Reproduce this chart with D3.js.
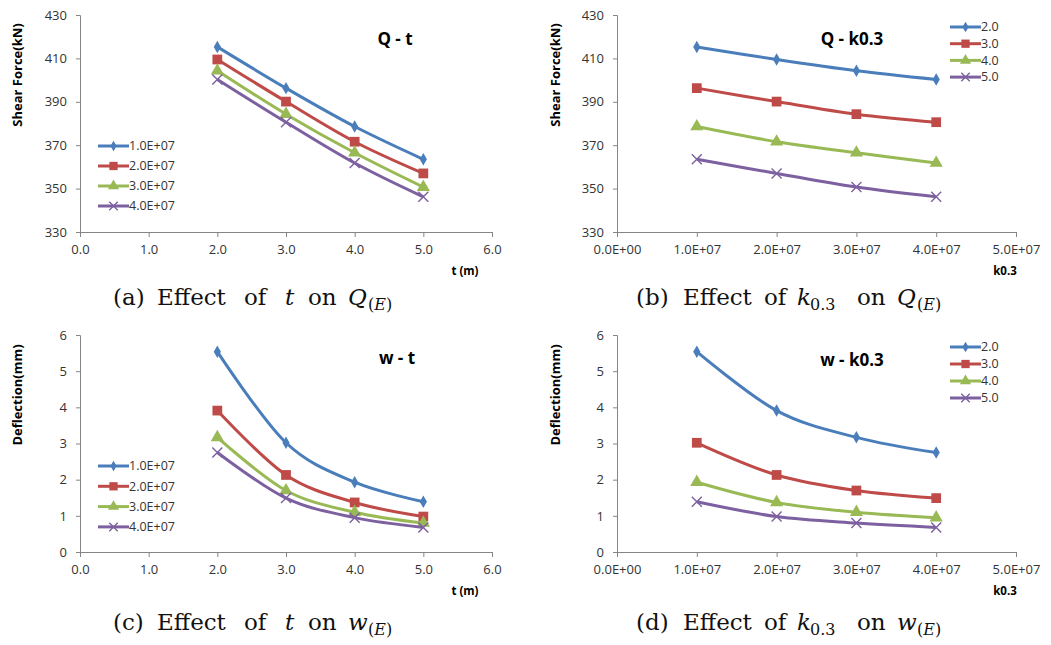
<!DOCTYPE html>
<html>
<head>
<meta charset="utf-8">
<script src="https://cdn.jsdelivr.net/npm/d3@7"></script>
<style>
  body { margin: 0; background: #fff; }
  svg text { font-family: "Open Sans", "Liberation Sans", sans-serif; }
  .tick text { fill: #333; }
  .cap { font-family: "DejaVu Serif", "Liberation Serif", serif !important; fill: #111; }
</style>
</head>
<body>
<svg id="chart" width="1051" height="645"></svg>
<script>
// --- data ---
const tValues = [2, 3, 4, 5];                 // t (m)
const kValues = [1e7, 2e7, 3e7, 4e7];         // k0.3
const kNames = ["1.0E+07", "2.0E+07", "3.0E+07", "4.0E+07"];
const tNames = ["2.0", "3.0", "4.0", "5.0"];

// shear force Q, rows = t, cols = k
const shearByT = [
    [415.3, 409.5, 404.3, 400.3],
    [396.3, 390.1, 384.3, 380.6],
    [378.6, 371.6, 366.5, 361.8],
    [363.5, 357.0, 350.7, 346.2],
];
// deflection w, rows = t, cols = k
const deflByT = [
    [5.54, 3.91, 3.17, 2.75],
    [3.02, 2.13, 1.70, 1.49],
    [1.93, 1.37, 1.10, 0.95],
    [1.39, 0.98, 0.80, 0.68],
];

const tTicks = [0, 1, 2, 3, 4, 5, 6];
const kTicks = [0, 1e7, 2e7, 3e7, 4e7, 5e7];
const kTickLabels = ["0.0E+00", "1.0E+07", "2.0E+07", "3.0E+07", "4.0E+07", "5.0E+07"];
const shearTicks = [330, 350, 370, 390, 410, 430];
const deflTicks = [0, 1, 2, 3, 4, 5, 6];

const colors = ["#4a7ebb", "#be4b48", "#98b954", "#7d60a0"];
const markers = ["diamond", "square", "triangle", "x"];

const svg = d3.select("#chart");
svg.append("rect").attr("width", 1051).attr("height", 645).attr("fill", "#fff");

const transpose = (m) => m[0].map((_, j) => m.map((r) => r[j]));
const oneDec = d3.format(".1f");

// caption word layouts (offset from caption start)
const capT = (lab, q) => [
    { s: lab, dx: 0 }, { s: "Effect", dx: 44 }, { s: "of", dx: 131 },
    { s: "t", dx: 172, it: true }, { s: "on", dx: 195 },
    { s: q, dx: 235, it: true }, { s: "(", dx: 255, sub: true }, { s: "E", it: true, sub: true, cont: true }, { s: ")", sub: true, cont: true },
];
const capK = (lab, q) => [
    { s: lab, dx: 0 }, { s: "Effect", dx: 47 }, { s: "of", dx: 128 },
    { s: "k", dx: 161, it: true }, { s: "0.3", dx: 174, sub: true }, { s: "on", dx: 221 },
    { s: q, dx: 261, it: true }, { s: "(", dx: 281, sub: true }, { s: "E", it: true, sub: true, cont: true }, { s: ")", sub: true, cont: true },
];

const panels = [
    {
        left: 80, right: 492, top: 15, bottom: 232,
        xs: tValues, xDomain: [0, 6], xTicks: tTicks, xFmt: (d) => oneDec(d),
        yDomain: [330, 430], yTicks: shearTicks,
        series: transpose(shearByT), names: kNames,
        yTitle: "Shear Force(kN)", yTitleX: 17, yTitleY: 75,
        xTitle: "t (m)", xTitleX: 465, xTitleY: 275,
        title: "Q - t", titleX: 395, titleY: 45,
        legend: { x: 98, y: 146, step: 20 },
        caption: { x: 113, y: 305, words: capT("(a)", "Q") },
    },
    {
        left: 617, right: 1016, top: 15, bottom: 232,
        xs: kValues, xDomain: [0, 5e7], xTicks: kTicks, xFmt: (d, i) => kTickLabels[i],
        yDomain: [330, 430], yTicks: shearTicks,
        series: shearByT, names: tNames,
        yTitle: "Shear Force(kN)", yTitleX: 555, yTitleY: 75,
        xTitle: "k0.3", xTitleX: 1005, xTitleY: 275,
        title: "Q - k0.3", titleX: 852, titleY: 45,
        legend: { x: 950, y: 27, step: 16.7 },
        caption: { x: 636, y: 305, words: capK("(b)", "Q") },
    },
    {
        left: 80, right: 492, top: 335, bottom: 552,
        xs: tValues, xDomain: [0, 6], xTicks: tTicks, xFmt: (d) => oneDec(d),
        yDomain: [0, 6], yTicks: deflTicks,
        series: transpose(deflByT), names: kNames,
        yTitle: "Deflection(mm)", yTitleX: 17, yTitleY: 395,
        xTitle: "t (m)", xTitleX: 465, xTitleY: 595,
        title: "w - t", titleX: 397, titleY: 364,
        legend: { x: 98, y: 466, step: 20.3 },
        caption: { x: 113, y: 630, words: capT("(c)", "w") },
    },
    {
        left: 617, right: 1016, top: 335, bottom: 552,
        xs: kValues, xDomain: [0, 5e7], xTicks: kTicks, xFmt: (d, i) => kTickLabels[i],
        yDomain: [0, 6], yTicks: deflTicks,
        series: deflByT, names: tNames,
        yTitle: "Deflection(mm)", yTitleX: 555, yTitleY: 395,
        xTitle: "k0.3", xTitleX: 1005, xTitleY: 595,
        title: "w - k0.3", titleX: 852, titleY: 366,
        legend: { x: 950, y: 347, step: 17 },
        caption: { x: 636, y: 630, words: capK("(d)", "w") },
    },
];

function drawMarker(g, type, color, x, y, s) {
    s = s || 1;
    if (type === "x") {
        const r = 5 * s;
        g.append("path")
            .attr("d", `M${x - r},${y - r}L${x + r},${y + r}M${x - r},${y + r}L${x + r},${y - r}`)
            .attr("stroke", color).attr("stroke-width", 1.4).attr("fill", "none");
        return;
    }
    const sym = { diamond: d3.symbolDiamond, square: d3.symbolSquare, triangle: d3.symbolTriangle }[type];
    const size = { diamond: 45, square: 95, triangle: 75 }[type] * s * s;
    g.append("path")
        .attr("d", d3.symbol().type(sym).size(size)())
        .attr("transform", `translate(${x},${y})`)
        .attr("fill", color);
}

panels.forEach((p) => {
    const x = d3.scaleLinear().domain(p.xDomain).range([p.left, p.right]);
    const y = d3.scaleLinear().domain(p.yDomain).range([p.bottom, p.top]);
    const g = svg.append("g");

    // axes
    const xa = g.append("g").attr("transform", `translate(0,${p.bottom})`)
        .call(d3.axisBottom(x).tickValues(p.xTicks).tickFormat(p.xFmt).tickSizeOuter(0).tickSize(5).tickPadding(8));
    const ya = g.append("g").attr("transform", `translate(${p.left},0)`)
        .call(d3.axisLeft(y).tickValues(p.yTicks).tickFormat(d3.format("d")).tickSizeOuter(0).tickSize(4).tickPadding(9));
    [xa, ya].forEach((a) => {
        a.select(".domain").attr("stroke", "#868686");
        a.selectAll(".tick line").attr("stroke", "#868686");
        a.selectAll(".tick text").style("font-size", "13px");
    });

    // series
    const line = d3.line().x((d) => x(d[0])).y((d) => y(d[1])).curve(d3.curveCardinal.tension(0));
    p.series.forEach((vals, i) => {
        const pts = vals.map((v, j) => [p.xs[j], v]);
        g.append("path").datum(pts).attr("d", line)
            .attr("fill", "none").attr("stroke", colors[i]).attr("stroke-width", 3);
        pts.forEach((d) => drawMarker(g, markers[i], colors[i], x(d[0]), y(d[1])));
    });

    // legend
    p.names.forEach((n, i) => {
        const ly = p.legend.y + i * p.legend.step;
        g.append("line").attr("x1", p.legend.x).attr("x2", p.legend.x + 31)
            .attr("y1", ly).attr("y2", ly).attr("stroke", colors[i]).attr("stroke-width", 3);
        drawMarker(g, markers[i], colors[i], p.legend.x + 15.5, ly, 0.85);
        g.append("text").attr("x", p.legend.x + 31).attr("y", ly).attr("dy", "0.35em")
            .style("font-size", "12.5px").attr("fill", "#333").text(n);
    });

    // titles
    g.append("text").attr("transform", `translate(${p.yTitleX},${p.yTitleY}) rotate(-90)`)
        .attr("text-anchor", "middle").attr("dy", "0.35em")
        .style("font-size", "13px").style("font-weight", "bold").text(p.yTitle);
    g.append("text").attr("x", p.xTitleX).attr("y", p.xTitleY)
        .attr("text-anchor", "middle")
        .style("font-size", "11.5px").style("font-weight", "bold").text(p.xTitle);
    g.append("text").attr("x", p.titleX).attr("y", p.titleY)
        .attr("text-anchor", "middle")
        .style("font-size", "17px").style("font-weight", "bold").text(p.title);

    // caption, word by word
    let cursor = p.caption.x;
    p.caption.words.forEach((w) => {
        const wx = w.cont ? cursor : p.caption.x + w.dx;
        const t = g.append("text").attr("class", "cap")
            .attr("x", wx).attr("y", p.caption.y + (w.sub ? 5 : 0))
            .style("font-size", w.sub ? "16px" : "23px")
            .style("font-style", w.it ? "italic" : "normal")
            .text(w.s);
        cursor = wx + t.node().getComputedTextLength();
    });
});
</script>
</body>
</html>
